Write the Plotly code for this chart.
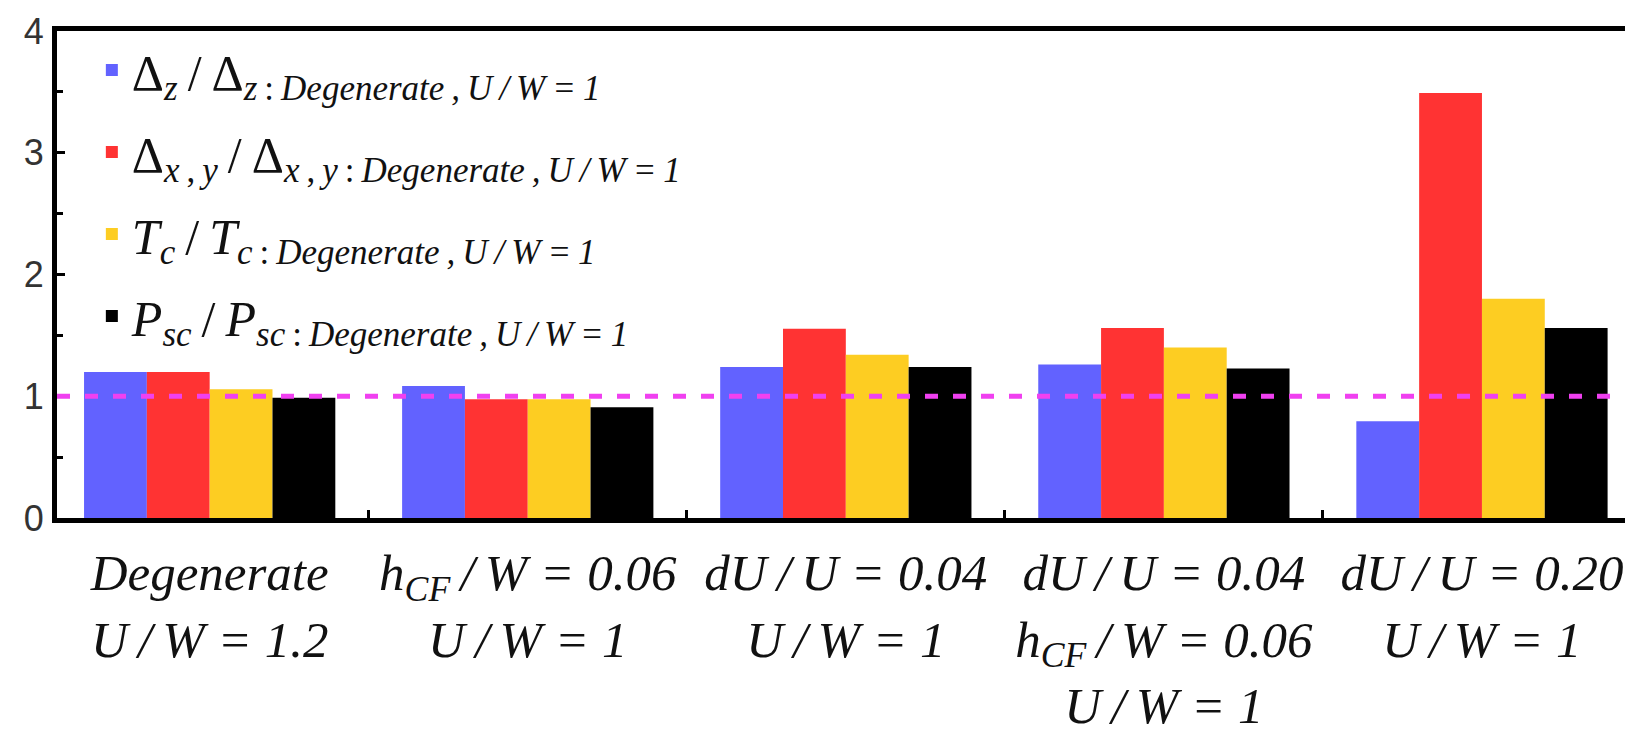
import plotly.graph_objects as go

T = "\u2009"  # thin space

categories = ["Degenerate U/W=1.2", "hCF/W=0.06 U/W=1", "dU/U=0.04 U/W=1",
              "dU/U=0.04 hCF/W=0.06 U/W=1", "dU/U=0.20 U/W=1"]
tick_labels = [
    f"Degenerate<br>U{T}/{T}W = 1.2",
    f"h<sub>CF</sub>{T}/{T}W = 0.06<br>U{T}/{T}W = 1",
    f"dU{T}/{T}U = 0.04<br>U{T}/{T}W = 1",
    f"dU{T}/{T}U = 0.04<br>h<sub>CF</sub>{T}/{T}W = 0.06<br>U{T}/{T}W = 1",
    f"dU{T}/{T}U = 0.20<br>U{T}/{T}W = 1",
]
delta_z = [1.20, 1.085, 1.24, 1.26, 0.795]
delta_xy = [1.20, 0.975, 1.555, 1.56, 3.49]
tc = [1.057, 0.975, 1.34, 1.40, 1.80]
psc = [0.987, 0.91, 1.24, 1.227, 1.56]

sub_ref = f"<i>Degenerate{T},{T}U{T}/{T}W{T}={T}1</i>"
series_names = [
    f"Δ<sub><i>z</i></sub>{T}/{T}Δ<sub><i>z</i>{T}:{T}{sub_ref}</sub>",
    f"Δ<sub><i>x</i>{T},{T}<i>y</i></sub>{T}/{T}Δ<sub><i>x</i>{T},{T}<i>y</i>{T}:{T}{sub_ref}</sub>",
    f"<i>T</i><sub><i>c</i></sub>{T}/{T}<i>T</i><sub><i>c</i>{T}:{T}{sub_ref}</sub>",
    f"<i>P</i><sub><i>sc</i></sub>{T}/{T}<i>P</i><sub><i>sc</i>{T}:{T}{sub_ref}</sub>",
]
series_values = [delta_z, delta_xy, tc, psc]
colors = ["#6262FF", "#FF3333", "#FDCD22", "#000000"]
reference_level = 1.0

fig = go.Figure()
for i, (name, vals, col) in enumerate(zip(series_names, series_values, colors)):
    fig.add_trace(go.Bar(x=categories, y=vals, name=name, marker_color=col,
                         marker_line_width=0, legendgroup=f"g{i}"))

fig.add_hline(y=reference_level, line=dict(color="#F040F0", width=5, dash="13px,15px"),
              layer="above")

fig.update_layout(
    width=1633, height=733,
    margin=dict(l=49, r=0, t=23, b=223),
    paper_bgcolor="white", plot_bgcolor="white",
    barmode="group", bargap=0.21, bargroupgap=0,
    showlegend=True,
    legend=dict(x=0.022, y=1.0, xanchor="left", yanchor="top",
                bgcolor="rgba(0,0,0,0)",
                font=dict(family="Liberation Serif", size=50, color="#111"),
                tracegroupgap=14, itemwidth=30),
    font=dict(family="Liberation Serif"),
)
fig.update_xaxes(
    tickmode="array", tickvals=categories, ticktext=tick_labels,
    tickson="boundaries", ticks="inside", ticklen=8, tickwidth=3, tickcolor="black",
    showline=True, linecolor="black", linewidth=5, mirror=True,
    showgrid=False, range=[-0.48, 4.50],
    tickfont=dict(family="Liberation Serif", size=51, color="#111", style="italic"),
    ticklabelstandoff=6,
)
fig.update_yaxes(
    range=[0, 4], tickvals=[0, 1, 2, 3, 4],
    ticks="inside", ticklen=8, tickwidth=3, tickcolor="black",
    minor=dict(dtick=0.5, ticks="inside", ticklen=6, tickwidth=3, tickcolor="black"),
    showline=True, linecolor="black", linewidth=5,
    showgrid=False, zeroline=False,
    tickfont=dict(family="Liberation Sans", size=36, color="#333"),
    ticklabelstandoff=1,
)

fig.write_html("out.html")
